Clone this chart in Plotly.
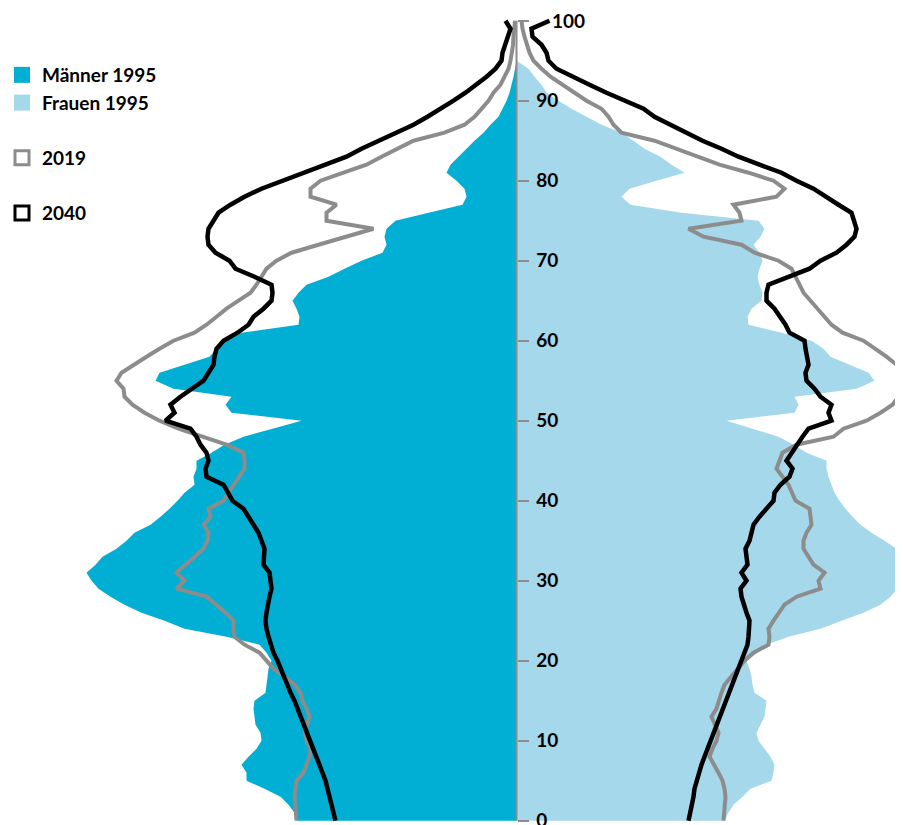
import plotly.graph_objects as go

# Alter (Jahre)
ages = list(range(101))
ages_1995 = list(range(96))

# Bevölkerung je Altersjahr (relative Einheiten, ca. 1 Einheit = 1 px)
maenner_1995 = [
    220, 222, 228, 236, 252, 270, 270, 275, 268, 260,
    255, 256, 261, 262, 263, 262, 251, 250, 249, 248,
    245, 250, 257, 290, 332, 352, 375, 392, 406, 418,
    425, 430, 421, 414, 400, 390, 382, 366, 356, 347,
    339, 332, 322, 323, 320, 320, 305, 292, 273, 244,
    215, 285, 291, 285, 343, 361, 357, 332, 307, 300,
    290, 275, 218, 217, 220, 224, 218, 210, 188, 172,
    155, 134, 130, 132, 130, 121, 88, 54, 50, 52,
    60, 70, 66, 58, 50, 42, 33, 26, 18, 14,
    10, 7, 5, 3, 1.5, 0]

frauen_1995 = [
    208, 212, 217, 226, 234, 255, 257, 258, 254, 248,
    242, 240, 244, 248, 249, 250, 238, 236, 235, 233,
    230, 241, 250, 272, 304, 325, 347, 364, 374, 381,
    382, 382, 382, 382, 380, 368, 355, 344, 336, 329,
    323, 318, 315, 312, 310, 310, 290, 277, 262, 236,
    210, 278, 282, 278, 340, 358, 352, 333, 314, 307,
    295, 265, 232, 231, 235, 245, 246, 243, 241, 243,
    246, 243, 237, 244, 248, 242, 165, 114, 105, 113,
    140, 168, 155, 144, 128, 117, 105, 85, 70, 55,
    42, 30, 25, 18, 12, 0]

maenner_2019 = [
    220, 221, 222, 222, 221, 220, 213, 210, 207, 206,
    210, 212, 209, 207, 210, 214, 216, 222, 232, 243,
    250, 257, 272, 282, 283, 283, 291, 301, 310, 340,
    332, 340, 331, 322, 313, 309, 308, 313, 306, 308,
    293, 288, 283, 277, 272, 272, 273, 290, 315, 338,
    357, 372, 384, 392, 393, 400, 395, 383, 370, 357,
    343, 322, 310, 300, 290, 278, 266, 260, 255, 250,
    240, 225, 198, 172, 143, 190, 190, 180, 206, 206,
    196, 173, 150, 135, 118, 103, 72, 52, 42, 35,
    28, 23, 16, 12, 8, 6, 4.5, 3.5, 3, 2, 1.5]

frauen_2019 = [
    207, 208, 208, 209, 208, 206, 202, 197, 193, 196,
    200, 202, 198, 195, 200, 202, 205, 208, 215, 222,
    228, 237, 252, 253, 252, 257, 262, 268, 280, 304,
    302, 308, 297, 292, 287, 287, 290, 295, 294, 293,
    279, 275, 272, 266, 260, 263, 266, 280, 317, 327,
    350, 364, 376, 382, 390, 398, 392, 380, 370, 358,
    347, 326, 315, 308, 301, 294, 287, 283, 279, 275,
    262, 238, 225, 187, 172, 225, 223, 217, 260, 268,
    257, 232, 203, 182, 160, 138, 105, 97, 92, 85,
    70, 58, 46, 34, 25, 17, 13, 10, 8, 6, 5]

maenner_2040 = [
    181, 183, 184, 186, 188, 191, 194, 197, 200, 203,
    206, 209, 212, 216, 219, 222, 226, 229, 232, 235,
    239, 243, 246, 248, 250, 251, 250, 249, 247, 245,
    246, 247, 253, 252, 252, 255, 258, 263, 268, 273,
    284, 289, 293, 310, 311, 308, 310, 316, 320, 326,
    351, 342, 346, 336, 325, 313, 308, 303, 302, 300,
    293, 279, 268, 263, 253, 245, 244, 245, 262, 281,
    287, 301, 308, 309, 308, 303, 298, 286, 272, 255,
    233, 213, 190, 170, 155, 137, 120, 103, 89, 75,
    63, 51, 40, 30, 21, 15, 14, 11, 9, 6, 11]

frauen_2040 = [
    172, 174, 175, 177, 178, 180, 182, 185, 188, 191,
    194, 197, 200, 203, 206, 209, 212, 215, 218, 221,
    224, 227, 231, 232, 233, 233, 230, 227, 225, 224,
    230, 225, 231, 230, 229, 233, 235, 237, 243, 250,
    257, 258, 264, 273, 276, 270, 275, 281, 286, 292,
    315, 312, 315, 304, 298, 290, 289, 292, 290, 289,
    288, 273, 269, 264, 258, 250, 250, 252, 273, 293,
    304, 320, 330, 338, 340, 337, 335, 322, 310, 297,
    280, 265, 243, 222, 205, 186, 170, 154, 138, 127,
    107, 90, 73, 57, 40, 32, 30, 25, 16, 15, 33]

tick_vals = list(range(0, 101, 10))
tick_text = ['<b>%d</b>' % v for v in tick_vals[:-1]] + ['']

c_maenner = '#00AFD3'
c_frauen = '#A5D8EA'
c_2019 = '#8C8C8C'
c_2040 = '#000000'
c_axis = '#8C8C8C'
font_family = 'Lato'

# the page body keeps its default 8px margin, so the figure is 8px smaller
W, H = 895, 817
x_lo, x_hi = -508.5, 386.5

fig = go.Figure()

# 1995 als Flächen
fig.add_trace(go.Scatter(x=[-v for v in maenner_1995], y=ages_1995, mode='none',
                         fill='tozerox', fillcolor=c_maenner, showlegend=False, hoverinfo='skip'))
fig.add_trace(go.Scatter(x=frauen_1995, y=ages_1995, mode='none',
                         fill='tozerox', fillcolor=c_frauen, showlegend=False, hoverinfo='skip'))

# 2019 und 2040 als Linien
fig.add_trace(go.Scatter(x=[-v for v in maenner_2019], y=ages, mode='lines',
                         line=dict(color=c_2019, width=4), showlegend=False))
fig.add_trace(go.Scatter(x=frauen_2019, y=ages, mode='lines',
                         line=dict(color=c_2019, width=4), showlegend=False))
fig.add_trace(go.Scatter(x=[-v for v in maenner_2040], y=ages, mode='lines',
                         line=dict(color=c_2040, width=4.5), showlegend=False))
fig.add_trace(go.Scatter(x=frauen_2040, y=ages, mode='lines',
                         line=dict(color=c_2040, width=4.5), showlegend=False))

# Legende
fig.add_trace(go.Scatter(x=[None], y=[None], mode='markers', name='Männer 1995', legendgroup='a',
                         marker=dict(symbol='square', size=16, color=c_maenner)))
fig.add_trace(go.Scatter(x=[None], y=[None], mode='markers', name='Frauen 1995', legendgroup='a',
                         marker=dict(symbol='square', size=16, color=c_frauen)))
fig.add_trace(go.Scatter(x=[None], y=[None], mode='markers', name='2019', legendgroup='b',
                         marker=dict(symbol='square-open', size=14, color=c_2019, line=dict(width=3))))
fig.add_trace(go.Scatter(x=[None], y=[None], mode='markers', name='2040', legendgroup='c',
                         marker=dict(symbol='square-open', size=14, color=c_2040, line=dict(width=3))))

# Mittelachse
fig.add_shape(type='line', xref='x', yref='y', x0=0, x1=0, y0=0, y1=100,
              line=dict(color=c_axis, width=2), layer='above')

fig.add_annotation(x=33, y=100, xref='x', yref='y', text='<b>100</b>', showarrow=False,
                   xanchor='left', yanchor='middle',
                   font=dict(family=font_family, size=19, color='black'))

fig.update_layout(
    width=W, height=H,
    margin=dict(l=0, r=0, t=0, b=0, pad=0, autoexpand=False),
    plot_bgcolor='white', paper_bgcolor='white',
    font=dict(family=font_family, size=18, color='black'),
    xaxis=dict(range=[x_lo, x_hi], visible=False, fixedrange=True),
    yaxis=dict(range=[-0.54, 101.59], anchor='free', position=-x_lo / (x_hi - x_lo), side='right',
               showgrid=False, zeroline=False, showline=False, automargin=False,
               ticks='outside', ticklen=11, tickwidth=2, tickcolor=c_axis,
               tickvals=tick_vals, ticktext=tick_text, ticklabelstandoff=4,
               ticklabeloverflow='allow',
               tickfont=dict(family=font_family, size=19, color='black'), fixedrange=True),
    legend=dict(x=-6 / W, y=1 - 48 / H, xanchor='left', yanchor='top',
                traceorder='grouped', tracegroupgap=27.5, itemwidth=30,
                bgcolor='rgba(0,0,0,0)',
                font=dict(family=font_family, size=19, color='black', weight='bold')),
    showlegend=True,
)

fig.write_html("out.html")
